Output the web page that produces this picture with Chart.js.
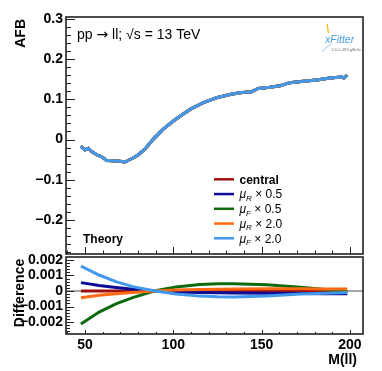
<!DOCTYPE html>
<html>
<head>
<meta charset="utf-8">
<script src="https://cdn.jsdelivr.net/npm/chart.js@4"></script>
<style>
  html, body { margin: 0; padding: 0; background: #fff; }
  #wrap { position: relative; width: 382px; height: 371px; }
  canvas { position: absolute; left: 0; top: 0; }
</style>
</head>
<body>
<div id="wrap">
  <canvas id="afb-chart" width="382" height="371"></canvas>
  <canvas id="diff-chart" width="382" height="371"></canvas>
</div>
<script>
const FONT = "'Liberation Sans', Arial, Helvetica, sans-serif";
const COLORS = {
  central: "#9c1010",
  muR05: "#0c0c96",
  muF05: "#0d6a0d",
  muR20: "#ff6a12",
  muF20: "#4299ec",
};

// upper panel: AFB vs M(ll)
const massPoints = [47.7, 50, 51.9, 53.8, 56.6, 59.5, 62.3, 66, 69.8, 72.6, 76.4, 80.1, 84, 88.7, 94.3, 100,
  103.8, 109.5, 117, 124.5, 132, 137.7, 144.3, 148.1, 154.7, 160.4, 166, 173.6, 181.1, 188.7, 195.3, 196.6, 198.5];
const afbValues = [-0.017, -0.026, -0.022, -0.030, -0.038, -0.043, -0.052, -0.053, -0.054, -0.056, -0.048, -0.0385,
  -0.0235, 0.001, 0.026, 0.046, 0.058, 0.075, 0.092, 0.104, 0.112, 0.1165, 0.119, 0.127, 0.130, 0.134, 0.1415,
  0.145, 0.148, 0.153, 0.1556, 0.153, 0.1605];

// lower panel: difference to central
const diffMass = [47.7, 58, 67.5, 77, 89, 101.5, 115, 125, 134, 153, 172, 186, 198.5];
const diffCentral = [0, 0, 0, 0, 0, 0, 0, 0, 0, 0, 0, 0, 0];
const diffMuR05 = [0.00054, 0.00036, 0.00023, 0.00012, 0.00001, -0.00006, -0.0001, -0.00012, -0.00013, -0.00015, -0.00016, -0.00017, -0.00017];
const diffMuF05 = [-0.00213, -0.00136, -0.00083, -0.00043, 0.0, 0.00026, 0.00042, 0.00047, 0.00047, 0.0004, 0.00024, 0.0001, -0.00003];
const diffMuR20 = [-0.00043, -0.00028, -0.00018, -0.0001, 0.0, 0.00006, 0.0001, 0.00012, 0.00013, 0.00014, 0.00014, 0.00013, 0.00013];
const diffMuF20 = [0.0016, 0.00103, 0.0006, 0.00028, 0.00002, -0.0002, -0.00033, -0.00037, -0.00038, -0.00032, -0.0002, -0.00014, -0.0001];

const upperTickValues = [-0.2, -0.1, 0, 0.1, 0.2, 0.3];
const upperTickLabels = ["\u22120.2", "\u22120.1", "0", "0.1", "0.2", "0.3"];
const lowerTickValues = [-0.002, -0.001, 0, 0.001, 0.002];
const lowerTickLabels = ["\u22120.002", "\u22120.001", "0", "0.001", "0.002"];
const massTickValues = [50, 100, 150, 200];

const legendItems = [
  { name: "central", color: COLORS.central },
  { mu: "R", factor: "0.5", color: COLORS.muR05 },
  { mu: "F", factor: "0.5", color: COLORS.muF05 },
  { mu: "R", factor: "2.0", color: COLORS.muR20 },
  { mu: "F", factor: "2.0", color: COLORS.muF20 },
];

const xy = (xs, ys) => xs.map((x, i) => ({ x: x, y: ys[i] }));

function line(data, color, order) {
  return { data: data, borderColor: color, borderWidth: 3, pointRadius: 0, tension: 0, fill: false, order: order };
}

// frame + inward ticks, ROOT style
const rootFrame = {
  id: "rootFrame",
  beforeDatasetsDraw(chart, args, opts) {
    if (!opts.zeroLine) return;
    const { ctx, chartArea: a, scales } = chart;
    const py = scales.y.getPixelForValue(0);
    ctx.save();
    ctx.strokeStyle = "#888";
    ctx.lineWidth = 1.5;
    ctx.beginPath();
    ctx.moveTo(a.left, py);
    ctx.lineTo(a.right, py);
    ctx.stroke();
    ctx.restore();
  },
  afterDatasetsDraw(chart, args, opts) {
    const { ctx, chartArea: a, scales } = chart;
    const x = scales.x, y = scales.y;
    ctx.save();
    ctx.strokeStyle = "#222";
    ctx.lineWidth = 1;
    ctx.beginPath();
    for (let i = Math.ceil(x.min / 10); i * 10 <= x.max; i++) {
      const px = Math.round(x.getPixelForValue(i * 10)) + 0.5;
      const len = i % 5 === 0 ? opts.xMajor : opts.xMinor;
      ctx.moveTo(px, a.bottom);
      ctx.lineTo(px, a.bottom - len);
    }
    const s = opts.yStep;
    for (let i = Math.ceil(y.min / s - 1e-6); i * s <= y.max + 1e-12; i++) {
      const py = Math.round(y.getPixelForValue(i * s)) + 0.5;
      const len = i % 5 === 0 ? opts.yMajor : opts.yMinor;
      ctx.moveTo(a.left, py);
      ctx.lineTo(a.left + len, py);
    }
    ctx.stroke();
    ctx.lineWidth = 1.6;
    ctx.strokeRect(a.left, a.top, a.right - a.left, a.bottom - a.top);
    ctx.restore();
  },
};

// texts, legend and logo of the upper pad
const upperDecor = {
  id: "upperDecor",
  afterDraw(chart) {
    const ctx = chart.ctx;
    ctx.save();
    ctx.fillStyle = "#000";

    ctx.save();
    ctx.translate(25, 19);
    ctx.rotate(-Math.PI / 2);
    ctx.font = "bold 14px " + FONT;
    ctx.textAlign = "right";
    ctx.fillText("AFB", 0, 0);
    ctx.restore();

    ctx.textAlign = "left";
    let tx = 77;
    ctx.font = "14px " + FONT;
    ctx.fillText("pp ", tx, 38.5);
    tx += ctx.measureText("pp ").width;
    ctx.font = "14px 'DejaVu Sans', sans-serif";
    ctx.fillText("\u2192", tx, 38.5);
    tx += ctx.measureText("\u2192").width;
    ctx.font = "14px " + FONT;
    ctx.fillText(" ll; \u221As = 13 TeV", tx, 38.5);

    ctx.font = "bold 12px " + FONT;
    ctx.fillText("Theory", 83, 242.5);

    legendItems.forEach((item, i) => {
      const cy = 179.3 + i * 14.75;
      ctx.strokeStyle = item.color;
      ctx.lineWidth = 2.5;
      ctx.beginPath();
      ctx.moveTo(214, cy);
      ctx.lineTo(234, cy);
      ctx.stroke();
      let lx = 239.5;
      const base = cy + 4.3;
      if (item.name) {
        ctx.font = "bold 12px " + FONT;
        ctx.fillText(item.name, lx, base);
      } else {
        ctx.font = "italic 12px " + FONT;
        ctx.fillText("\u03BC", lx, base);
        lx += ctx.measureText("\u03BC").width;
        ctx.font = "italic 8px " + FONT;
        ctx.fillText(item.mu, lx, base + 2.5);
        lx += ctx.measureText(item.mu).width;
        ctx.font = "12px " + FONT;
        ctx.fillText(" \u00D7 " + item.factor, lx, base);
      }
    });

    // xFitter logo
    ctx.strokeStyle = "#f2c230";
    ctx.lineWidth = 1.5;
    ctx.beginPath();
    ctx.moveTo(327, 24);
    ctx.lineTo(328.5, 33);
    ctx.stroke();
    ctx.strokeStyle = "#8cc6ef";
    ctx.lineWidth = 1;
    ctx.beginPath();
    ctx.moveTo(331, 44);
    ctx.quadraticCurveTo(326, 47, 322, 52);
    ctx.stroke();
    ctx.fillStyle = "#4a9fe0";
    ctx.font = "italic 10.5px " + FONT;
    ctx.fillText("xFitter", 325, 42.5);
    ctx.fillStyle = "#777";
    ctx.font = "4px " + FONT;
    ctx.fillText("2.0.0-483-g8b4e", 331.5, 50.5);
    ctx.restore();
  },
};

const lowerDecor = {
  id: "lowerDecor",
  afterDraw(chart) {
    const ctx = chart.ctx;
    ctx.save();
    ctx.fillStyle = "#000";
    ctx.font = "bold 14px " + FONT;
    ctx.save();
    ctx.translate(23.5, 293);
    ctx.rotate(-Math.PI / 2);
    ctx.textAlign = "center";
    ctx.fillText("Difference", 0, 0);
    ctx.restore();
    ctx.textAlign = "right";
    ctx.fillText("M(ll)", 357, 363.5);
    ctx.restore();
  },
};

const tickFont = { family: FONT, size: 14, weight: "bold" };

const config_afb = {
  type: "line",
  data: {
    datasets: [
      line(xy(massPoints, afbValues), COLORS.central, 4),
      line(xy(massPoints, afbValues), COLORS.muR05, 3),
      line(xy(massPoints, afbValues), COLORS.muF05, 2),
      line(xy(massPoints, afbValues), COLORS.muR20, 1),
      line(xy(massPoints, afbValues), COLORS.muF20, 0),
    ],
  },
  options: {
    responsive: false,
    animation: false,
    devicePixelRatio: 1,
    layout: { padding: { left: 0, top: 17, right: 19, bottom: 117 } },
    plugins: {
      legend: { display: false },
      tooltip: { enabled: false },
      rootFrame: { xMajor: 7, xMinor: 3.5, yStep: 0.02, yMajor: 9, yMinor: 5 },
    },
    scales: {
      x: { type: "linear", min: 39.25, max: 207.4, display: false },
      y: {
        type: "linear",
        min: -0.285,
        max: 0.305,
        grid: { display: false, drawTicks: false },
        border: { display: false },
        afterFit: (s) => { s.width = 66; },
        afterBuildTicks: (s) => { s.ticks = upperTickValues.map((v) => ({ value: v })); },
        ticks: {
          padding: 3,
          autoSkip: false,
          color: "#000",
          font: tickFont,
          callback: (v) => upperTickLabels[upperTickValues.findIndex((t) => Math.abs(t - v) < 1e-9)],
        },
      },
    },
  },
  plugins: [rootFrame, upperDecor],
};

const config_diff = {
  type: "line",
  data: {
    datasets: [
      line(xy(diffMass, diffCentral), COLORS.central, 4),
      line(xy(diffMass, diffMuR05), COLORS.muR05, 3),
      line(xy(diffMass, diffMuF05), COLORS.muF05, 2),
      line(xy(diffMass, diffMuR20), COLORS.muR20, 1),
      line(xy(diffMass, diffMuF20), COLORS.muF20, 0),
    ],
  },
  options: {
    responsive: false,
    animation: false,
    devicePixelRatio: 1,
    layout: { padding: { left: 0, top: 257, right: 19, bottom: 0 } },
    plugins: {
      legend: { display: false },
      tooltip: { enabled: false },
      rootFrame: { xMajor: 4, xMinor: 2, yStep: 0.0002, yMajor: 8, yMinor: 4, zeroLine: true },
    },
    scales: {
      x: {
        type: "linear",
        min: 39.25,
        max: 207.4,
        grid: { display: false, drawTicks: false },
        border: { display: false },
        afterFit: (s) => { s.height = 37; },
        afterBuildTicks: (s) => { s.ticks = massTickValues.map((v) => ({ value: v })); },
        ticks: { padding: 3, autoSkip: false, color: "#000", font: tickFont, maxRotation: 0, callback: (v) => String(v) },
      },
      y: {
        type: "linear",
        min: -0.00277,
        max: 0.00219,
        grid: { display: false, drawTicks: false },
        border: { display: false },
        afterFit: (s) => { s.width = 66; },
        afterBuildTicks: (s) => { s.ticks = lowerTickValues.map((v) => ({ value: v })); },
        ticks: {
          padding: 3,
          autoSkip: false,
          color: "#000",
          font: tickFont,
          callback: (v) => lowerTickLabels[lowerTickValues.findIndex((t) => Math.abs(t - v) < 1e-12)],
        },
      },
    },
  },
  plugins: [rootFrame, lowerDecor],
};

var ctx_afb = document.getElementById("afb-chart").getContext("2d");
var afbChart = new Chart(ctx_afb, config_afb);
var ctx_diff = document.getElementById("diff-chart").getContext("2d");
var diffChart = new Chart(ctx_diff, config_diff);
</script>
</body>
</html>
